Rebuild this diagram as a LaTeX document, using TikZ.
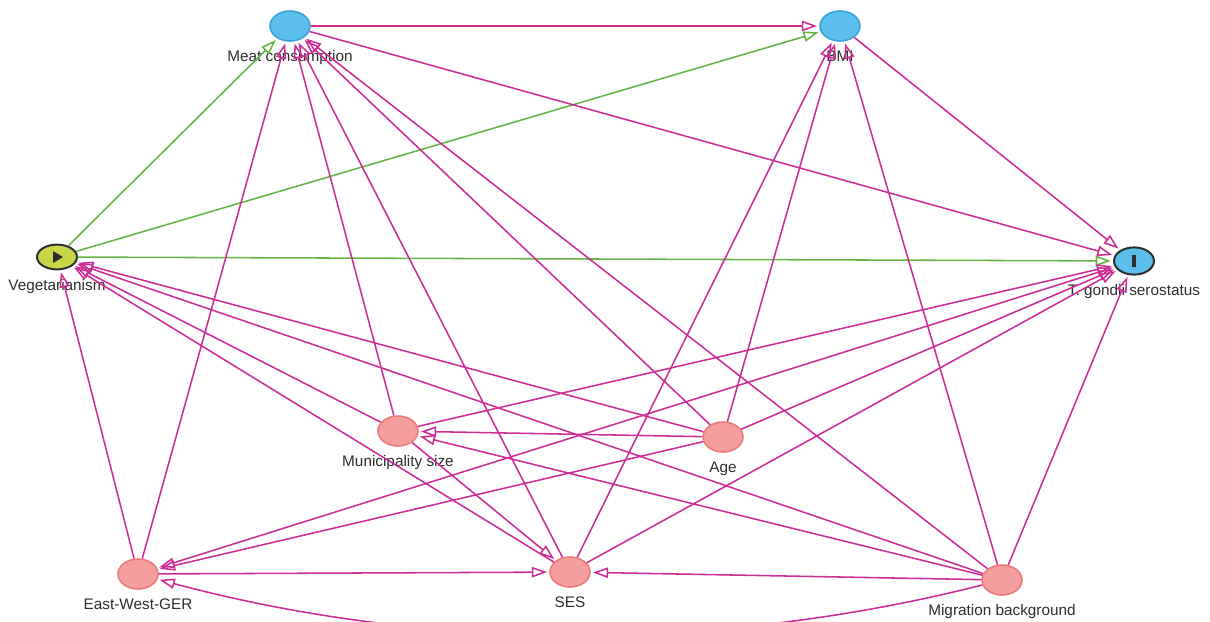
\documentclass[tikz,border=0pt]{standalone}
\usepackage{fontspec}
\setmainfont{Liberation Sans}
\usetikzlibrary{shapes.geometric,arrows.meta}
\definecolor{edgepink}{RGB}{204,45,150}
\definecolor{edgegreen}{RGB}{100,180,70}
\definecolor{nodepink}{RGB}{245,158,158}
\definecolor{nodepinkline}{RGB}{236,122,122}
\definecolor{nodeblue}{RGB}{92,190,235}
\definecolor{nodeblueline}{RGB}{60,160,220}
\definecolor{nodeyellow}{RGB}{200,214,72}
\definecolor{labelgray}{RGB}{45,45,45}
\begin{document}
\begin{tikzpicture}[x=0.025cm,y=-0.025cm,
    every path/.style={line width=1.1pt},
    var/.style={ellipse,minimum width=1cm,minimum height=0.75cm,inner sep=0pt},
    adjusted/.style={var,fill=nodepink,draw=nodepinkline},
    ancestor/.style={var,fill=nodeblue,draw=nodeblueline},
    exposure/.style={var,fill=nodeyellow,draw=labelgray,line width=1.4pt,minimum height=0.62cm},
    outcome/.style={var,fill=nodeblue,draw=labelgray,line width=1.4pt,minimum height=0.68cm},
    every label/.style={text=labelgray,font=\fontsize{10.9}{12}\selectfont,text height=8pt,text depth=2.3pt,label distance=0.08cm},
    edge/.style={draw=edgepink,-{Triangle[open,length=0.38cm,width=0.26cm]},shorten >=1.5pt},
    causal/.style={edge,draw=edgegreen}]
    \useasboundingbox (0,0) rectangle (1210,621);
    % variables
    \node[ancestor] (meat) at (290,26) [label=below:{Meat consumption}] {};
    \node[ancestor] (bmi) at (840,26) [label=below:{BMI}] {};
    \node[exposure] (veg) at (57,257) [label=below:{Vegetarianism}] {};
    \node[outcome] (tg) at (1134,261) [label=below:{T. gondii serostatus}] {};
    \node[adjusted] (muni) at (398,431) [label=below:{Municipality size}] {};
    \node[adjusted] (age) at (723,437) [label=below:{Age}] {};
    \node[adjusted] (ewg) at (138,574) [label=below:{East-West-GER}] {};
    \node[adjusted] (ses) at (570,572) [label=below:{SES}] {};
    \node[adjusted] (mig) at (1002,580) [label=below:{Migration background}] {};
    % markers
    \fill[labelgray] (veg.center) ++(-4,-6) -- ++(10,6) -- ++(-10,6) -- cycle;
    \fill[labelgray] (tg.center) ++(-2,-6) rectangle ++(4,12);
    % causal paths
    \draw[causal] (veg) -- (meat);
    \draw[causal] (veg) -- (bmi);
    \draw[causal] (veg) -- (tg);
    % other edges
    \draw[edge] (meat) -- (bmi);
    \draw[edge] (meat) -- (tg);
    \draw[edge] (bmi) -- (tg);
    \draw[edge] (ewg) -- (veg);
    \draw[edge] (ewg) -- (meat);
    \draw[edge] (ewg) -- (ses);
    \draw[edge,{Triangle[open,length=0.38cm,width=0.26cm]}-{Triangle[open,length=0.38cm,width=0.26cm]},shorten <=1.5pt] (ewg) -- (tg);
    \draw[edge] (muni) -- (meat);
    \draw[edge] (muni) -- (veg);
    \draw[edge] (muni) -- (ses);
    \draw[edge] (muni) -- (tg);
    \draw[edge] (age) -- (meat);
    \draw[edge] (age) -- (bmi);
    \draw[edge] (age) -- (tg);
    \draw[edge] (age) -- (veg);
    \draw[edge] (age) -- (muni);
    \draw[edge] (age) -- (ewg);
    \draw[edge] (ses) -- (meat);
    \draw[edge] (ses) -- (veg);
    \draw[edge] (ses) -- (bmi);
    \draw[edge] (ses) -- (tg);
    \draw[edge] (mig) -- (meat);
    \draw[edge] (mig) -- (bmi);
    \draw[edge] (mig) -- (tg);
    \draw[edge] (mig) -- (veg);
    \draw[edge] (mig) -- (muni);
    \draw[edge] (mig) -- (ses);
    \draw[edge] (mig) .. controls (714,653) and (426,651) .. (ewg);
\end{tikzpicture}
\end{document}
